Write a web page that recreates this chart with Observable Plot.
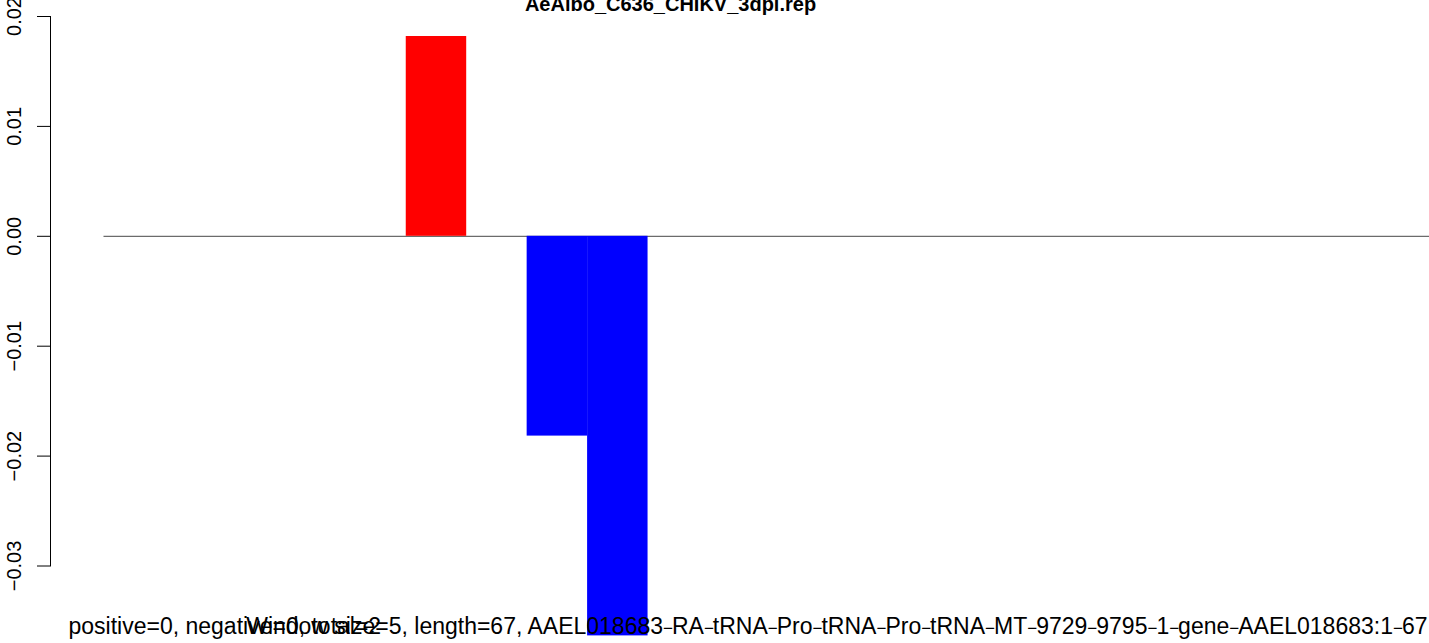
<!DOCTYPE html>
<html>
<head>
<meta charset="utf-8">
<script src="https://cdn.jsdelivr.net/npm/d3@7"></script>
<script src="https://cdn.jsdelivr.net/npm/@observablehq/plot@0.6"></script>
<style>
  html, body { margin: 0; padding: 0; background: #fff; }
  #chart svg { display: block; }
</style>
</head>
<body>
<div id="chart"></div>
<script>
// ---- data ----
const titleText = "AeAlbo_C636_CHIKV_3dpi.rep";
const windowStart = [5, 7, 8];          // window index of each bar
const score = [0.01818, -0.01818, -0.03636];
const tickValues = [0.02, 0.01, 0.00, -0.01, -0.02, -0.03];
const tickLabels = ["0.02", "0.01", "0.00", "\u22120.01", "\u22120.02", "\u22120.03"];
const countsText = "positive=0, negative=0, total=2";
const infoText = "Window size=5, length=67, AAEL018683\u2212RA\u2212tRNA\u2212Pro\u2212tRNA\u2212Pro\u2212tRNA\u2212MT\u22129729\u22129795\u22121\u2212gene\u2212AAEL018683:1\u221267";

const bars = windowStart.map((s, i) => ({start: s, end: s + 1, score: score[i]}));
const ticks = tickValues.map((v, i) => ({v, label: tickLabels[i]}));

const FONT = "'Liberation Sans', Arial, Helvetica, sans-serif";

const chart = Plot.plot({
  width: 1429,
  height: 643,
  marginLeft: 50,
  marginRight: 0,
  marginTop: 16,
  marginBottom: 77.5,
  style: {fontFamily: FONT, fontSize: "20px", color: "black", background: "white", overflow: "visible"},
  x: {domain: [0, 22], range: [103.5, 103.5 + 22 * 60.45], axis: null},
  y: {domain: [-0.03, 0.02], axis: null},
  marks: [
    Plot.frame({anchor: "left", stroke: "black", strokeWidth: 1}),
    Plot.axisY({ticks: tickValues, tickSize: 13, tickFormat: () => "", stroke: "black", strokeWidth: 1}),
    Plot.text(ticks, {y: "v", text: "label", frameAnchor: "left", dx: -36, rotate: -90, lineAnchor: "middle", textAnchor: "middle", fontSize: 20, fill: "black"}),
    Plot.ruleY([0], {x1: 0, x2: 22, stroke: "#6b6b6b", strokeWidth: 1.3}),
    Plot.rect(bars, {x1: "start", x2: "end", y1: 0, y2: "score", fill: d => d.score > 0 ? "#ff0000" : "#0000ff", inset: 0}),
    Plot.text([titleText], {frameAnchor: "top", dx: -69.5, dy: -6, lineAnchor: "bottom", fontWeight: "bold", fontSize: 20, fill: "black"}),
    Plot.text([countsText], {frameAnchor: "bottom-left", dx: 18, dy: 67.5, lineAnchor: "bottom", textAnchor: "start", fontSize: 23, fill: "black"}),
    Plot.text([infoText], {frameAnchor: "bottom-right", dx: -2, dy: 67.5, lineAnchor: "bottom", textAnchor: "end", fontSize: 23, fill: "black"})
  ]
});

// R draws its minus-style dashes narrower than Liberation's U+2212
d3.select(chart).selectAll("text")
  .filter(function() { return this.textContent === infoText; })
  .each(function() {
    const el = d3.select(this);
    const parts = infoText.split("\u2212");
    el.text(null);
    parts.forEach((p, i) => {
      el.append("tspan").text(p);
      if (i < parts.length - 1) {
        el.append("tspan")
          .attr("font-size", 17)
          .attr("letter-spacing", "-1px")
          .text("\u2212");
      }
    });
  });

document.getElementById("chart").append(chart);
</script>
</body>
</html>
